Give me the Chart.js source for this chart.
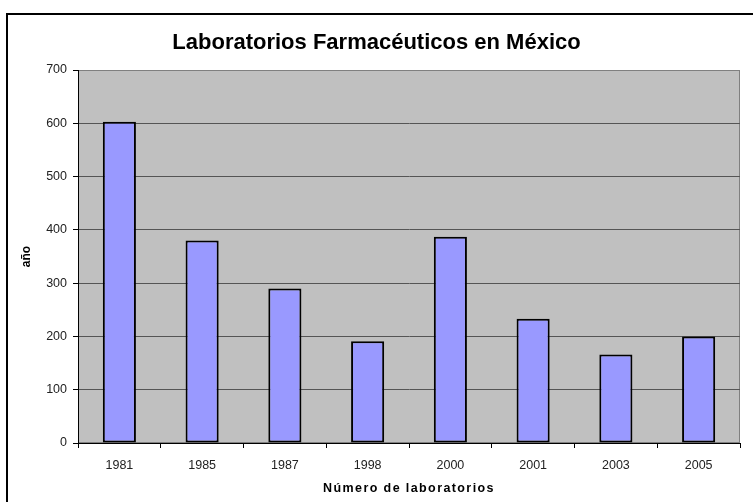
<!DOCTYPE html>
<html>
<head>
<meta charset="utf-8">
<script src="https://cdn.jsdelivr.net/npm/chart.js@4.4.1/dist/chart.umd.min.js"></script>
<style>
  html, body { margin: 0; padding: 0; background: #ffffff; }
  #wrap { width: 753px; height: 502px; }
</style>
</head>
<body>
<div id="wrap"><canvas id="c" width="753" height="502"></canvas></div>
<script>
// Number of pharmaceutical laboratories per year
const years = ['1981', '1985', '1987', '1998', '2000', '2001', '2003', '2005'];
const laboratorios = [603, 380, 290, 191, 387, 233, 166, 200];
const yTicks = [0, 100, 200, 300, 400, 500, 600, 700];

const chartTitle = 'Laboratorios Farmacéuticos en México';
const xTitle = 'Número de laboratorios';
const yTitle = 'año';

// White page, framed chart and grey plot area
const frame = {
  id: 'frame',
  beforeDraw(chart) {
    const { ctx, chartArea: a } = chart;
    ctx.save();
    ctx.fillStyle = '#ffffff';
    ctx.fillRect(0, 0, chart.width, chart.height);
    ctx.strokeStyle = '#000000';
    ctx.lineWidth = 2;
    ctx.strokeRect(7, 14, 780, 520);
    ctx.fillStyle = '#c0c0c0';
    ctx.fillRect(a.left, a.top, a.right - a.left, a.bottom - a.top);
    ctx.strokeStyle = '#808080';
    ctx.lineWidth = 1;
    ctx.strokeRect(a.left + 0.5, a.top + 0.5, a.right - a.left - 1, a.bottom - a.top - 1);
    ctx.restore();
  },
  // category axis line along the zero value
  afterDatasetsDraw(chart) {
    const { ctx, chartArea: a } = chart;
    const y0 = Math.round(chart.scales.y.getPixelForValue(0)) + 0.5;
    ctx.save();
    ctx.strokeStyle = '#000000';
    ctx.lineWidth = 1;
    ctx.beginPath();
    ctx.moveTo(a.left, y0);
    ctx.lineTo(a.right, y0);
    ctx.stroke();
    ctx.restore();
  }
};

// Wider letter spacing for the x-axis title
const spacedAxisTitle = {
  id: 'spacedAxisTitle',
  afterLayout(chart) {
    const sx = chart.scales.x;
    if (sx && !sx._spaced) {
      const orig = sx.drawTitle.bind(sx);
      sx.drawTitle = function () {
        const ctx = this.ctx;
        const prev = ctx.letterSpacing;
        ctx.letterSpacing = '1.4px';
        orig();
        ctx.letterSpacing = prev || '0px';
      };
      sx._spaced = true;
    }
  }
};

new Chart(document.getElementById('c'), {
  type: 'bar',
  data: {
    labels: years,
    datasets: [{
      data: laboratorios,
      backgroundColor: '#9999ff',
      borderColor: '#000000',
      borderWidth: 2,
      borderSkipped: false,
      categoryPercentage: 1.0,
      barPercentage: 0.4
    }]
  },
  options: {
    responsive: false,
    animation: false,
    devicePixelRatio: 1,
    layout: { padding: { left: 13, right: 13, top: 0, bottom: 0 } },
    plugins: {
      legend: { display: false },
      tooltip: { enabled: false },
      title: {
        display: true,
        text: chartTitle,
        color: '#000000',
        font: { family: 'Liberation Sans', size: 22, weight: 'bold', lineHeight: 1.1 },
        padding: { top: 30.6, bottom: 15.2 }
      }
    },
    scales: {
      x: {
        offset: true,
        grid: {
          display: true,
          offset: true,
          drawOnChartArea: false,
          drawTicks: true,
          tickLength: 5,
          color: '#000000'
        },
        border: { display: false },
        ticks: {
          color: '#222222',
          font: { family: 'Liberation Sans', size: 12.5 },
          padding: 10,
          maxRotation: 0
        },
        title: {
          display: true,
          text: xTitle,
          color: '#000000',
          font: { family: 'Liberation Sans', size: 12.5, weight: 'bold' },
          padding: { top: 0, bottom: 6 }
        },
        afterFit(s) { s.height = 59; }
      },
      y: {
        min: 0,
        max: 700,
        afterBuildTicks(s) { s.ticks = yTicks.map(v => ({ value: v })); },
        grid: {
          color: ctx => (ctx.tick && ctx.tick.value === 700) ? '#808080' : '#555555',
          tickColor: '#000000',
          tickLength: 5,
          lineWidth: 1
        },
        border: { display: true, color: '#000000', width: 1 },
        ticks: {
          color: '#222222',
          font: { family: 'Liberation Sans', size: 12.5 },
          padding: 6
        },
        title: {
          display: true,
          text: yTitle,
          color: '#000000',
          font: { family: 'Liberation Sans', size: 12, weight: 'bold' },
          padding: { top: 6, bottom: 0 }
        },
        afterFit(s) { s.width = 65; }
      }
    }
  },
  plugins: [frame, spacedAxisTitle]
});
</script>
</body>
</html>
